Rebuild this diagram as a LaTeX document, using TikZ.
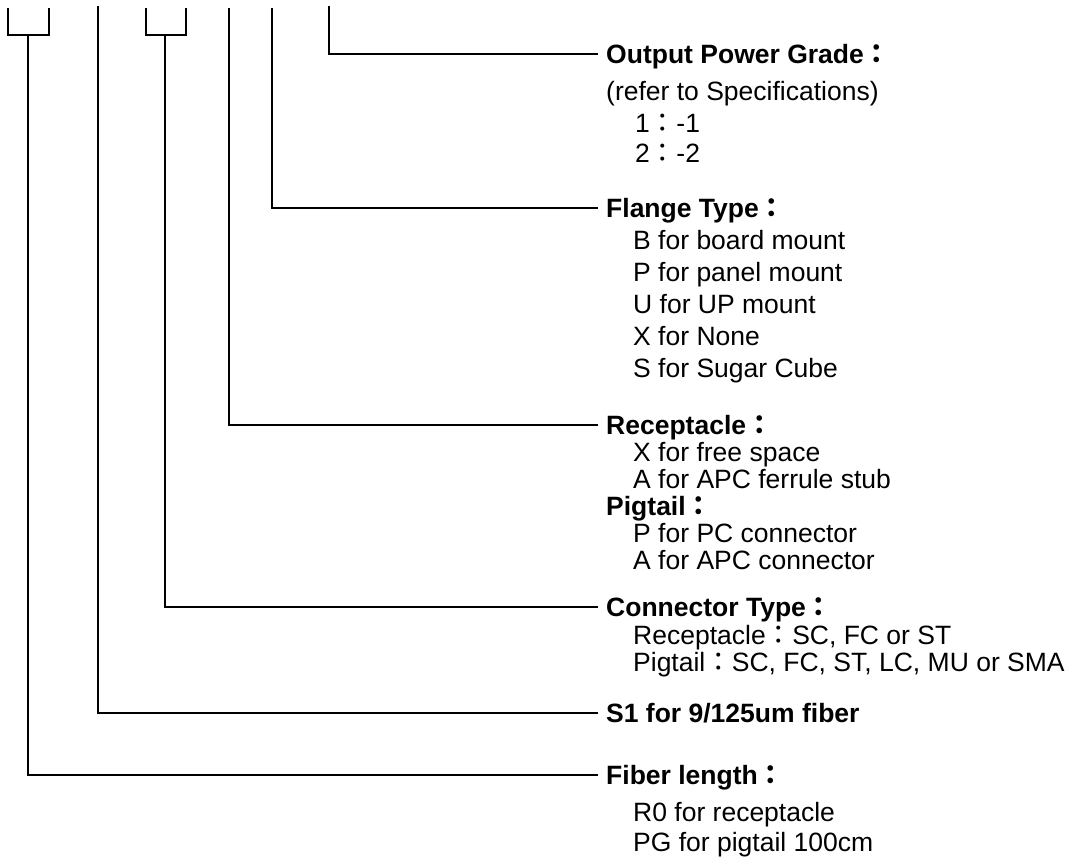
\documentclass[tikz,border=0pt]{standalone}
\usepackage{fontspec}
\setmainfont{Liberation Sans}
\newfontfamily\cjk{Noto Sans CJK JP}
\usetikzlibrary{positioning}
\newcommand{\fcol}{{\cjk ：}}
\newcommand{\codesize}{\fontsize{26.5}{27}\selectfont}

\begin{document}
\begin{tikzpicture}[x=1pt, y=-1pt,
    wire/.style={line width=2pt},
    title/.style={anchor=west, inner xsep=8pt, inner ysep=0pt,
                  text height=19pt, text depth=0pt, font=\codesize\bfseries},
    item/.style={anchor=west, inner sep=0pt,
                 text height=19pt, text depth=0pt, font=\codesize}
]
\useasboundingbox (0,0) rectangle (1079,859);

% top ends of the code positions
\coordinate (lenA) at (8,8);
\coordinate (lenB) at (49,8);
\coordinate (lenS) at (28,35);
\coordinate (fib)  at (98,6);
\coordinate (conA) at (146,8);
\coordinate (conB) at (186,8);
\coordinate (conS) at (165,35);
\coordinate (rcp)  at (229,8);
\coordinate (flg)  at (272,8);
\coordinate (pwr)  at (329,6);

% titles
\node[title] (power)  at (598,54)  {Output Power Grade\fcol};
\node[title] (flange) at (598,208) {Flange Type\fcol};
\node[title] (recep)  at (598,425) {Receptacle\fcol};
\node[title] (conn)   at (598,607) {Connector Type\fcol};
\node[title] (fiber)  at (598,713) {S1 for 9/125um fiber};
\node[title] (length) at (598,775) {Fiber length\fcol};

% output power grade
\node[item] (power1) at (606,91)  {(refer to Specifications)};
\node[item] (power2) at (635,123) {1\fcol-1};
\node[item] (power3) at (635,153) {2\fcol-2};

% flange type
\node[item] (flange1) at (633,240) {B for board mount};
\node[item] (flange2) at (633,272) {P for panel mount};
\node[item] (flange3) at (633,304) {U for UP mount};
\node[item] (flange4) at (633,336) {X for None};
\node[item] (flange5) at (633,368) {S for Sugar Cube};

% receptacle / pigtail
\node[item] (recep1) at (633,452) {X for free space};
\node[item] (recep2) at (633,479) {A for APC ferrule stub};
\node[item, font=\codesize\bfseries] (pigtail) at (606,506) {Pigtail\fcol};
\node[item] (pigtail1) at (633,533) {P for PC connector};
\node[item] (pigtail2) at (633,560) {A for APC connector};

% connector type
\node[item] (conn1) at (633,635) {Receptacle\fcol SC, FC or ST};
\node[item] (conn2) at (633,662) {Pigtail\fcol SC, FC, ST, LC, MU or SMA};

% fiber length
\node[item] (length1) at (633,812) {R0 for receptacle};
\node[item] (length2) at (633,842) {PG for pigtail 100cm};

% brackets and leaders
\draw[wire] (lenA) |- (lenS) -| (lenB);
\draw[wire] (conA) |- (conS) -| (conB);
\draw[wire] (lenS) |- (length.west);
\draw[wire] (fib)  |- (fiber.west);
\draw[wire] (conS) |- (conn.west);
\draw[wire] (rcp)  |- (recep.west);
\draw[wire] (flg)  |- (flange.west);
\draw[wire] (pwr)  |- (power.west);
\end{tikzpicture}
\end{document}
